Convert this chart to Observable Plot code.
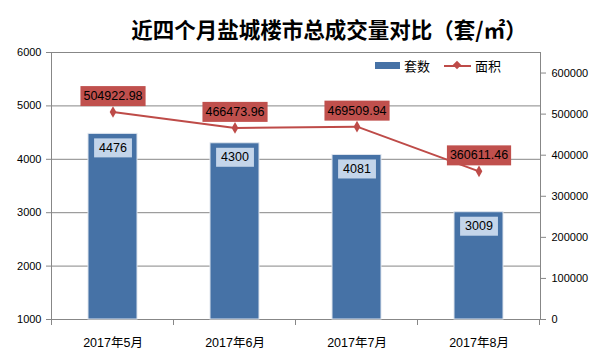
<!DOCTYPE html>
<html><head><meta charset="utf-8">
<script src="https://cdn.jsdelivr.net/npm/d3@7"></script>
<script src="https://cdn.jsdelivr.net/npm/@observablehq/plot@0.6"></script>
<style>
body{margin:0;background:#fff;font-family:"Liberation Sans","Noto Sans CJK SC",sans-serif;}
#wrap{position:relative;width:606px;height:355px;}
#title{height:40px;line-height:58px;text-align:center;font-family:"Noto Sans CJK SC",sans-serif;font-weight:bold;font-size:21.5px;color:#000;padding-left:52px;box-sizing:border-box;white-space:nowrap;}
#legend{position:absolute;left:375px;top:56px;display:flex;align-items:center;font-family:"Noto Sans CJK SC",sans-serif;font-size:13px;color:#000;}
#legend .sw{width:25px;height:7px;background:#4672a6;margin-right:4px;}
#legend .ln{position:relative;width:27px;height:2px;background:#be4b48;margin-left:14px;margin-right:4px;}
#legend .ln:after{content:"";position:absolute;left:10px;top:-3px;width:6px;height:6px;background:#be4b48;transform:rotate(45deg);}
</style></head>
<body><div id="wrap"><div id="title">近四个月盐城楼市总成交量对比（套/㎡）</div><div id="chart"></div>
<div id="legend"><span class="sw"></span><span>套数</span><span class="ln"></span><span>面积</span></div></div>
<script>
const months = ["2017年5月","2017年6月","2017年7月","2017年8月"];
const units = [4476, 4300, 4081, 3009];
const areas = [504922.98, 466473.96, 469509.94, 360611.46];
const leftTicks = [1000,2000,3000,4000,5000,6000];
const rightTicks = [0,100000,200000,300000,400000,500000,600000];
const leftDomain = [1000, 6000];
const rightDomain = [0, 650000];

const data = months.map((m,i)=>({month:m, units:units[i], area:areas[i]}));
const toLeft = v => leftDomain[0] + (v - rightDomain[0])/(rightDomain[1]-rightDomain[0])*(leftDomain[1]-leftDomain[0]);
const fromLeft = v => rightDomain[0] + (v - leftDomain[0])/(leftDomain[1]-leftDomain[0])*(rightDomain[1]-rightDomain[0]);

const grid = "#878787";
const bandTicks = (index, scales, values, dims) => {
  const g = d3.create("svg:g");
  const x = scales.x, bw = x.bandwidth(), step = x.step();
  const y0 = dims.height - dims.marginBottom;
  const xs = months.map(m => x(m) + bw/2 - step/2);
  xs.push(x(months[months.length-1]) + bw/2 + step/2);
  xs.forEach(v => g.append("line").attr("x1", v).attr("x2", v).attr("y1", y0).attr("y2", y0+6).attr("stroke", grid));
  return g.node();
};

const chart = Plot.plot({
  width: 606, height: 315,
  marginLeft: 51, marginRight: 66, marginTop: 12, marginBottom: 36,
  style: {fontFamily: '"Liberation Sans","Noto Sans CJK SC",sans-serif', fontSize: "11px", color: "#000", background: "#fff"},
  x: {domain: months, paddingInner: 0.6, paddingOuter: 0.3, label: null},
  y: {domain: leftDomain, label: null},
  marks: [
    Plot.gridY(leftTicks, {stroke: grid, strokeOpacity: 1}),
    Plot.frame({stroke: grid}),
    Plot.axisY({ticks: leftTicks, tickSize: 5, tickPadding: 5, stroke: grid, label: null, tickFormat: d => String(d), fill: "#000"}),
    Plot.axisY({anchor: "right", ticks: rightTicks.map(toLeft), tickSize: 5, tickPadding: 6, stroke: grid, label: null, fill: "#000",
      tickFormat: d => String(Math.round(fromLeft(d)))}),
    Plot.axisX({tickSize: 0, tickPadding: 19, fontSize: 12.5, label: null, fill: "#000"}),
    bandTicks,
    Plot.barY(data, {x: "month", y1: leftDomain[0], y2: "units", fill: "#4672a6", stroke: "#dfe5ee", strokeWidth: 1}),
    Plot.text(data, {x: "month", y: "units", text: d => String(d.units), dy: 14, fontSize: 12.5, fill: "#000", className: "barlab"}),
    Plot.line(data, {x: "month", y: d => toLeft(d.area), stroke: "#be4b48", strokeWidth: 2}),
    Plot.dot(data, {x: "month", y: d => toLeft(d.area), symbol: "diamond", r: 3.5, fill: "#be4b48"}),
    Plot.text(data, {x: "month", y: d => toLeft(d.area), text: d => d.area.toFixed(2), dy: -16, fontSize: 12.5, fill: "#000", className: "arealab"})
  ]
});
document.getElementById("chart").appendChild(chart);

function boxes(cls, fill, padX, padY) {
  chart.querySelectorAll("g." + cls + " text").forEach(t => {
    const b = t.getBBox();
    const r = document.createElementNS("http://www.w3.org/2000/svg", "rect");
    r.setAttribute("x", b.x - padX); r.setAttribute("y", b.y - padY);
    r.setAttribute("width", b.width + 2*padX); r.setAttribute("height", b.height + 2*padY);
    r.setAttribute("fill", fill);
    if (t.getAttribute("transform")) r.setAttribute("transform", t.getAttribute("transform"));
    t.parentNode.insertBefore(r, t);
  });
}
boxes("barlab", "#c4d5ea", 5, 2.5);
boxes("arealab", "#c0504d", 3, 3);
</script></body></html>
